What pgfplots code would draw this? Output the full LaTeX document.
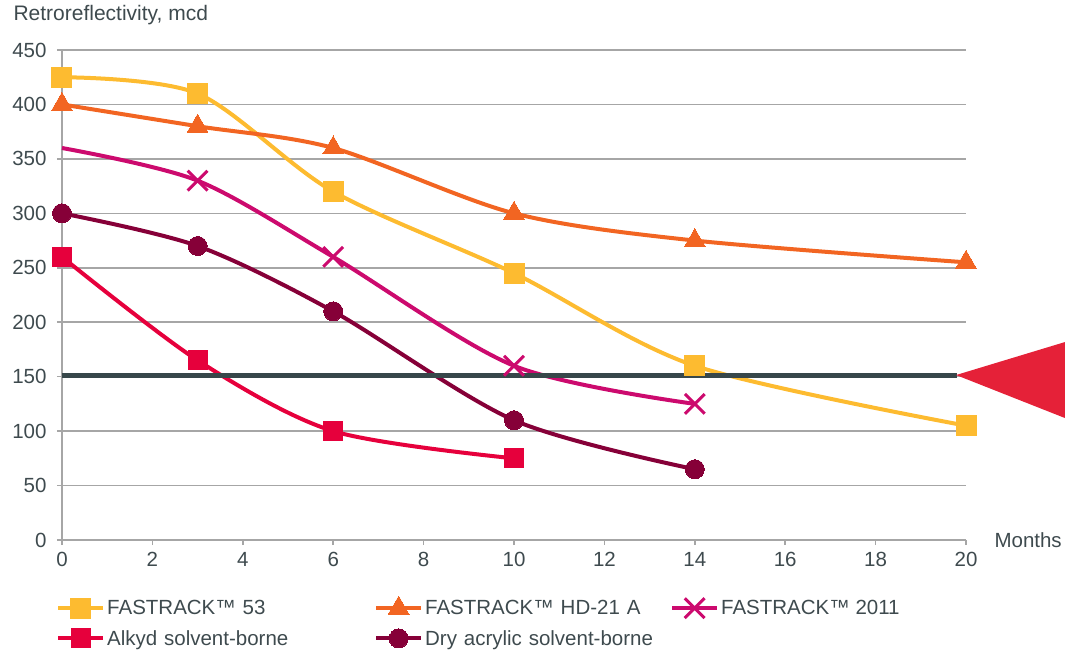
\documentclass[border=0pt]{standalone}
\usepackage{fontspec}
\setmainfont{Liberation Sans}
\usepackage{pgfplots}
\pgfplotsset{compat=1.18}

\definecolor{cYellow}{HTML}{FDBB30}
\definecolor{cOrange}{HTML}{F26522}
\definecolor{cMagenta}{HTML}{CC0A6E}
\definecolor{cRed}{HTML}{E6003C}
\definecolor{cMaroon}{HTML}{860038}
\definecolor{cThresh}{HTML}{37474A}
\definecolor{cTri}{HTML}{E52138}
\definecolor{cGrid}{HTML}{A6A6A6}
\definecolor{cText}{HTML}{3E4A4E}

% legend sample showing only the middle marker, for plots that use mark indices
\pgfplotsset{midmarklegend/.style={legend image code/.code={\draw[##1, mark indices={2}]
    plot coordinates {(0bp,0bp) (22.5bp,0bp) (45bp,0bp)};}}}

\begin{document}
\begin{tikzpicture}[font=\fontsize{20.5bp}{24bp}\selectfont, text=cText]
\begin{axis}[
  scale only axis, width=904bp, height=490bp,
  xmin=0, xmax=20, ymin=0, ymax=450,
  axis x line*=bottom, axis y line*=left,
  axis line style={draw=cGrid, line width=1.5bp},
  ymajorgrids, grid style={cGrid, line width=1.5bp},
  xtick={0,2,...,20}, ytick={0,50,...,450},
  tick align=outside, major tick length=5bp,
  tick style={cGrid, line width=1.5bp},
  xticklabel style={yshift=-4bp},
  yticklabel style={xshift=-7bp},
  /pgf/number format/assume math mode=true,
  clip=false,
  every axis plot/.append style={line width=4bp, smooth, tension=0.5},
  legend columns=3,
  legend cell align=left,
  legend style={draw=none, fill=none, at={(rel axis cs:0,0)}, anchor=north west,
    xshift=-9bp, yshift=-54bp, column sep=0bp, row sep=10bp},
  legend image code/.code={\draw[mark repeat=2, mark phase=2, #1]
    plot coordinates {(0bp,0bp) (22.5bp,0bp) (45bp,0bp)};},
]
% FASTRACK 53
\addplot[cYellow, mark=square*, mark size=10bp, mark options={solid, line width=0bp}]
  coordinates {(0,425) (3,410) (6,320) (10,245) (14,160) (20,105)};
\addlegendentry[text width=265bp]{FASTRACK™ 53}
% FASTRACK HD-21 A
\addplot[cOrange, mark=triangle*, mark size=12bp, mark options={solid, line width=0bp}]
  coordinates {(0,400) (3,380) (6,360) (10,300) (14,275) (20,255)};
\addlegendentry[text width=243bp]{FASTRACK™ HD-21 A}
% FASTRACK 2011 (no marker at the first point)
\addplot[cMagenta, mark=x, mark size=14bp, mark options={solid, line width=3bp},
  mark indices={2,3,4,5}, midmarklegend]
  coordinates {(0,360) (3,330) (6,260) (10,160) (14,125)};
\addlegendentry{FASTRACK™ 2011}
% Alkyd solvent-borne
\addplot[cRed, mark=square*, mark size=9.5bp, mark options={solid, line width=0bp}]
  coordinates {(0,260) (3,165) (6,100) (10,75)};
\addlegendentry[text width=265bp]{Alkyd solvent-borne}
% Dry acrylic solvent-borne
\addplot[cMaroon, mark=*, mark size=9.5bp, mark options={solid, line width=0bp}]
  coordinates {(0,300) (3,270) (6,210) (10,110) (14,65)};
\addlegendentry[text width=243bp]{Dry acrylic solvent-borne}

% threshold line and pointer
\addplot[cThresh, line width=5bp, sharp plot, mark=none, forget plot]
  coordinates {(0,151.5) (19.8,151.5)};
\addplot[fill=cTri, draw=none, sharp plot, mark=none, forget plot]
  coordinates {(19.78,151.5) (22.19,181.8) (22.19,112)} -- cycle;

\node[anchor=west, font=\fontsize{21bp}{24bp}\selectfont] at (rel axis cs:0,1) [xshift=-52bp, yshift=35bp] {Retroreflectivity, mcd};
\node[anchor=west] at (axis cs:20,0) [xshift=25bp] {Months};
\end{axis}
\pgfresetboundingbox
\path[use as bounding box] (-62bp,-113bp) rectangle (1003bp,540bp);
\end{tikzpicture}
\end{document}
